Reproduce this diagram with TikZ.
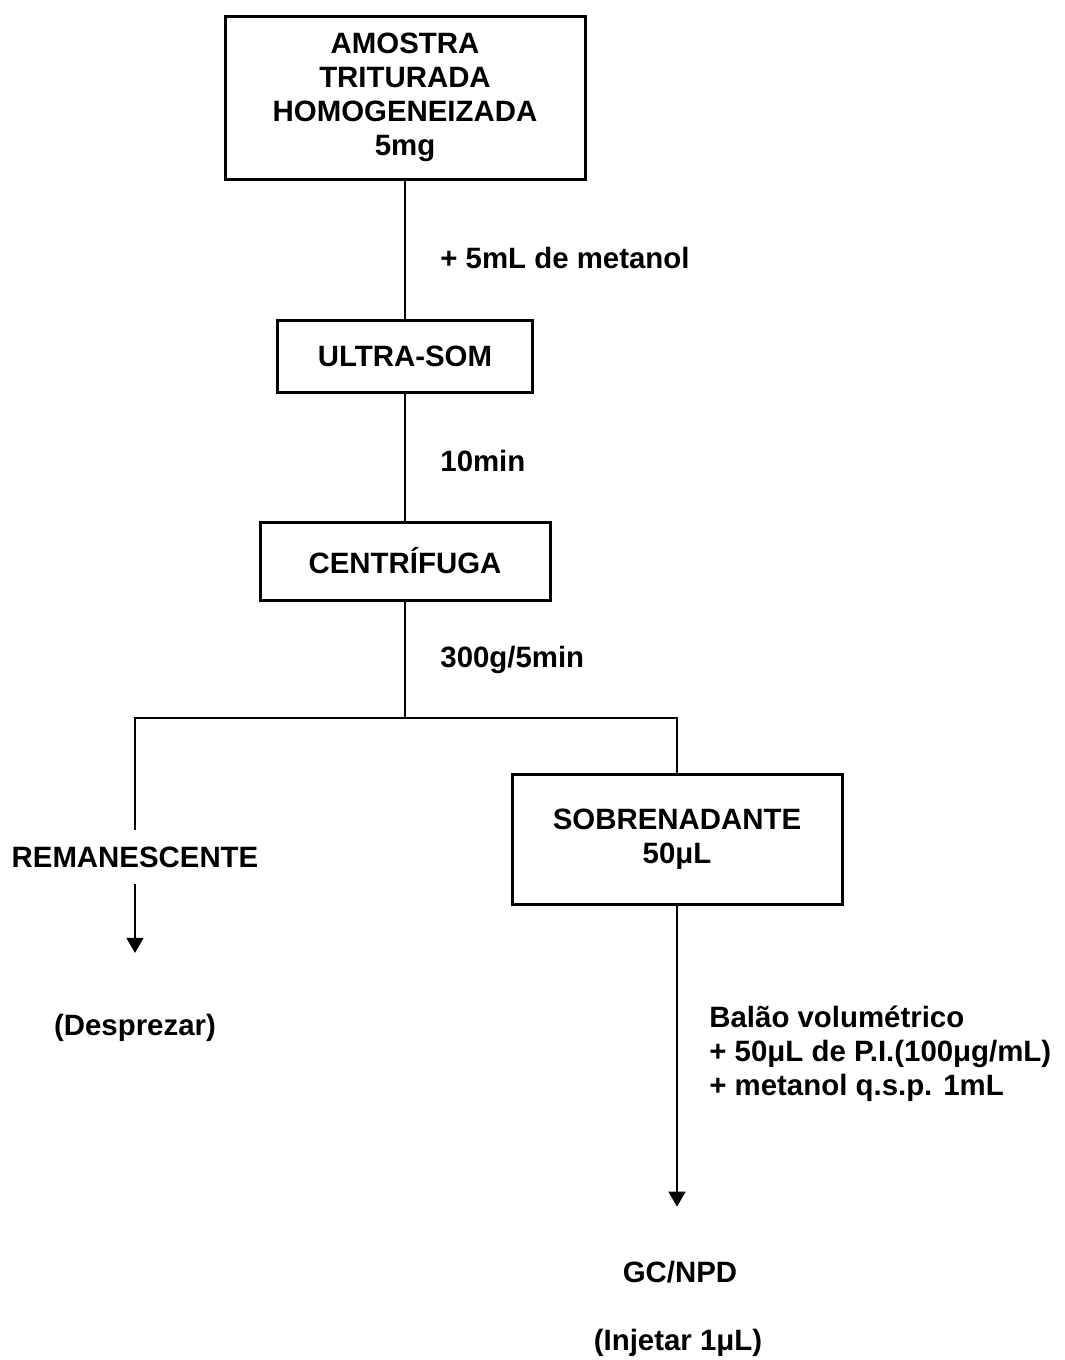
\documentclass[tikz,border=0pt]{standalone}
\usepackage{fontspec}
\setmainfont{Liberation Sans}
\usetikzlibrary{positioning,arrows.meta}

\tikzset{
  etapa/.style={draw, line width=1.5pt, inner sep=0pt, align=center,
    font=\bfseries\fontsize{14.7}{17}\selectfont},
  rotulo/.style={inner sep=0pt, align=left, anchor=west,
    font=\bfseries\fontsize{14.7}{17}\selectfont},
  texto/.style={inner sep=0pt, font=\bfseries\fontsize{14.7}{17}\selectfont},
  liga/.style={line width=0.75pt},
  seta/.style={line width=0.75pt, -{Triangle[width=8.5pt,length=7.5pt]}}
}

\begin{document}
\begin{tikzpicture}[x=0.5pt,y=-0.5pt]
  \useasboundingbox (0,0) rectangle (1065,1360);

  % etapas
  \node[etapa, minimum width=180pt, minimum height=81.5pt] (amostra) at (405,97.5)
    {AMOSTRA\\TRITURADA\\HOMOGENEIZADA\\5mg};
  \node[etapa, minimum width=127.5pt, minimum height=36pt] (ultra) at (405,356) {ULTRA-SOM};
  \node[etapa, minimum width=145pt, minimum height=39pt] (centrifuga) at (405,561) {CENTRÍFUGA};
  \node[etapa, minimum width=165pt, minimum height=65pt] (sobrenadante) at (677,839)
    {SOBRENADANTE\\50μL};

  % rotulos das ligacoes
  \node[rotulo] (metanol) at (440,258) {+ 5mL de metanol};
  \node[rotulo] (tempo) at (440,461) {10min};
  \node[rotulo] (rotacao) at (440,660) {300g/5min};
  \node[rotulo] (balao) at (709,1054)
    {Balão volumétrico\\+ 50μL de P.I.(100μg/mL)\\+ metanol q.s.p. 1mL};

  \node[texto, inner sep=8pt] (resto) at (135,857) {REMANESCENTE};
  \node[texto] (desprezar) at (135,1028) {(Desprezar)};
  \node[texto] (gc) at (680,1272) {GC/NPD};
  \node[texto] (injetar) at (678,1343) {(Injetar 1μL)};

  \coordinate (divisao) at (405,718);

  \draw[liga] (amostra) -- (ultra);
  \draw[liga] (ultra) -- (centrifuga);
  \draw[liga] (centrifuga) -- (divisao);
  \draw[liga] (divisao) -| (resto.north);
  \draw[liga] (divisao) -| (sobrenadante.north);
  \draw[seta, shorten >=30.5pt] (resto) -- (desprezar);
  \draw[seta, shorten >=27pt] (sobrenadante.south) -- (sobrenadante.south |- gc.north);
\end{tikzpicture}
\end{document}
